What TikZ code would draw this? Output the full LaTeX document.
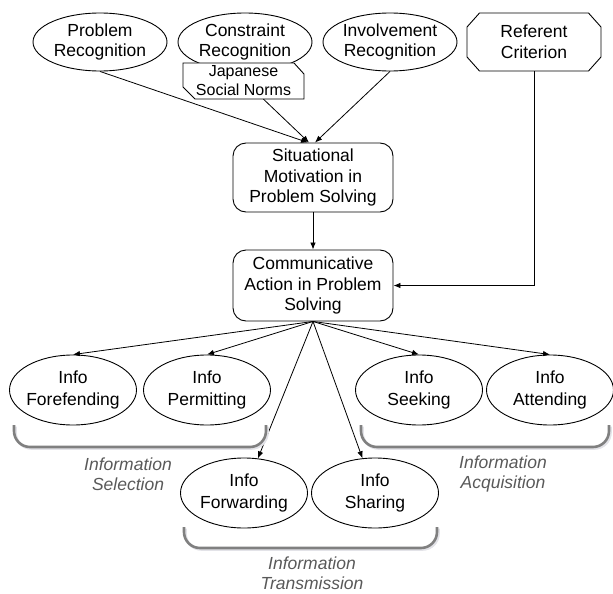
\documentclass[tikz,border=0pt]{standalone}
\usepackage{fontspec}
\setmainfont{Liberation Sans}
\usetikzlibrary{shapes.geometric,arrows.meta,calc}
\begin{document}
\begin{tikzpicture}[x=1pt,y=-1pt,
  every node/.style={font=\fontsize{17.5}{20.5}\selectfont, align=center, inner sep=0pt},
  ell/.style={draw, ellipse, line width=0.9pt, inner xsep=-2pt, minimum width=134pt, minimum height=58pt},
  ell2/.style={draw, ellipse, line width=0.9pt, inner xsep=-3pt, minimum width=127pt, minimum height=70pt,
               font=\fontsize{17.5}{21.5}\selectfont},
  rbox/.style={draw, rounded corners=13pt, line width=0.9pt, minimum width=160pt},
  poly/.style={draw, line width=0.9pt, fill=white},
  arr/.style={line width=0.8pt, -{Latex[length=7pt,width=5.5pt]}},
  brk/.style={draw=black!50, line width=2.6pt, rounded corners=16pt},
  brkshadow/.style={draw=blue!10!gray!20, line width=2.6pt, rounded corners=16pt},
  grp/.style={font=\fontsize{17.5}{20}\selectfont\itshape, text=black!65}
]
\useasboundingbox (0,0) rectangle (613,594);

% top row
\node[ell] (prob) at (100,42) {Problem\\Recognition};
\node[ell] (cons) at (245,42) {Constraint\\Recognition};
\node[ell] (inv) at (390,42) {Involvement\\Recognition};

% referent criterion (octagon)
\draw[poly] (479.5,13) -- (588.5,13) -- (601,27) -- (601,57) -- (588.5,71) -- (479.5,71) -- (467,57) -- (467,27) -- cycle;
\node[minimum width=134pt, minimum height=58pt] (ref) at (534,42) {Referent\\Criterion};

% japanese social norms (chamfered note)
\draw[poly] (183,63) -- (294,63) -- (304,74) -- (304,99) -- (195,99) -- (183,87) -- cycle;
\node[minimum width=121pt, minimum height=36pt, font=\fontsize{16}{19}\selectfont] (jsn) at (243.5,81) {Japanese\\Social Norms};

% middle boxes
\node[rbox, minimum height=69pt] (sit) at (313,177.5) {Situational\\Motivation in\\Problem Solving};
\node[rbox, minimum height=71pt] (com) at (313,285.5) {Communicative\\Action in Problem\\Solving};

% bottom ellipses
\node[ell2] (ff) at (73,390) {Info\\Forefending};
\node[ell2] (pm) at (207,390) {Info\\Permitting};
\node[ell2] (sk) at (419,390) {Info\\Seeking};
\node[ell2] (at) at (550,390) {Info\\Attending};
\node[ell2] (fw) at (244,493) {Info\\Forwarding};
\node[ell2] (sh) at (375,493) {Info\\Sharing};

% arrows
\draw[arr] (prob.south) -- ($(sit.north)+(-5,0)$);
\draw[arr] ($(jsn.south)+(20,0)$) -- ($(sit.north)+(-4,0)$);
\draw[arr] (inv.south) -- ($(sit.north)+(2,0)$);
\draw[arr] (sit.south) -- (com.north);
\draw[arr] (ref.south) |- (com.east);
\draw[arr] (com.south) -- (ff.north);
\draw[arr] (com.south) -- (pm.north);
\draw[arr] (com.south) -- (sk.north);
\draw[arr] (com.south) -- (at.north);
\draw[arr] (com.south) -- (fw);
\draw[arr] (com.south) -- (sh);

% brackets
\coordinate (s1) at (14,425); \coordinate (s2) at (266,425);
\coordinate (a1) at (361,425); \coordinate (a2) at (609,425);
\coordinate (t1) at (184,527); \coordinate (t2) at (437,527);
\draw[brkshadow] ($(s1)+(1.5,1.5)$) -- ($(s1)+(1.5,23.5)$) -- ($(s2)+(1.5,23.5)$) -- ($(s2)+(1.5,1.5)$);
\draw[brkshadow] ($(a1)+(1.5,1.5)$) -- ($(a1)+(1.5,23.5)$) -- ($(a2)+(1.5,23.5)$) -- ($(a2)+(1.5,1.5)$);
\draw[brkshadow] ($(t1)+(1.5,1.5)$) -- ($(t1)+(1.5,22.5)$) -- ($(t2)+(1.5,22.5)$) -- ($(t2)+(1.5,1.5)$);
\draw[brk] (s1) -- ($(s1)+(0,22)$) -- ($(s2)+(0,22)$) -- (s2);
\draw[brk] (a1) -- ($(a1)+(0,22)$) -- ($(a2)+(0,22)$) -- (a2);
\draw[brk] (t1) -- ($(t1)+(0,21)$) -- ($(t2)+(0,21)$) -- (t2);

% group labels
\node[grp] (lsel) at (128,474) {Information\\Selection};
\node[grp] (lacq) at (503,474) {Information\\Acquisition};
\node[grp] (ltra) at (312,573) {Information\\Transmission};
\end{tikzpicture}
\end{document}
